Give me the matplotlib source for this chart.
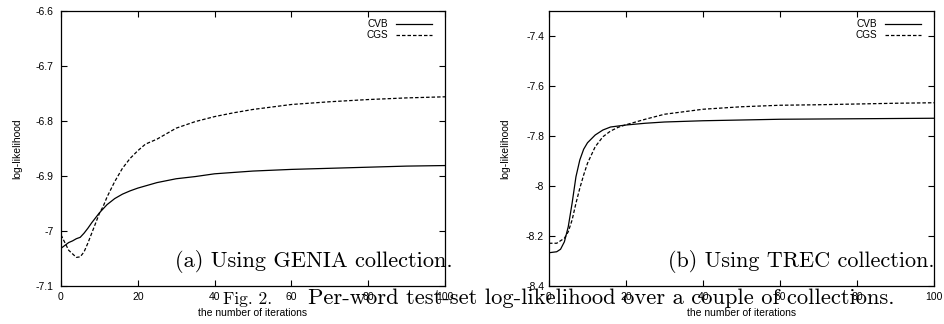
import matplotlib
matplotlib.use("Agg")
import matplotlib.pyplot as plt
from matplotlib.ticker import FuncFormatter

plt.rcParams['axes.unicode_minus'] = False
plt.rcParams['font.family'] = ['Liberation Sans', 'DejaVu Sans']

# ---- data: GENIA ----
genia_cvb_x = [0, 2, 3, 4, 5, 6, 7, 8, 9, 10, 12, 14, 16, 18, 20, 25, 30, 35, 40, 50, 60, 70, 80, 90, 100]
genia_cvb_y = [-7.0315, -7.021, -7.018, -7.014, -7.0115, -7.004, -6.995, -6.985, -6.976, -6.967,
               -6.952, -6.941, -6.933, -6.927, -6.922, -6.912, -6.905, -6.901, -6.896, -6.891,
               -6.888, -6.886, -6.884, -6.882, -6.881]
genia_cgs_x = [0, 2, 4, 5, 6, 7, 8, 9, 10, 11, 12, 14, 16, 18, 20, 22, 25, 30, 35, 40, 45, 50, 60, 70, 80, 90, 100]
genia_cgs_y = [-7.007, -7.035, -7.048, -7.047, -7.038, -7.022, -7.004, -6.986, -6.968, -6.955,
               -6.938, -6.910, -6.886, -6.868, -6.854, -6.842, -6.833, -6.813, -6.801, -6.792,
               -6.785, -6.779, -6.770, -6.765, -6.761, -6.758, -6.756]

# ---- data: TREC ----
trec_cvb_x = [0, 2, 3, 4, 5, 6, 7, 8, 9, 10, 12, 14, 16, 20, 25, 30, 40, 60, 80, 100]
trec_cvb_y = [-8.267, -8.263, -8.253, -8.223, -8.163, -8.069, -7.963, -7.896, -7.853, -7.827,
              -7.796, -7.776, -7.764, -7.756, -7.749, -7.744, -7.739, -7.733, -7.731, -7.729]
trec_cgs_x = [0, 2, 4, 5, 6, 7, 8, 9, 10, 12, 14, 16, 18, 20, 25, 30, 35, 40, 50, 60, 70, 80, 90, 100]
trec_cgs_y = [-8.229, -8.229, -8.209, -8.183, -8.136, -8.069, -8.009, -7.956, -7.909, -7.843,
              -7.803, -7.780, -7.765, -7.755, -7.733, -7.713, -7.703, -7.693, -7.683, -7.677,
              -7.675, -7.672, -7.669, -7.667]

series_labels = ["CVB", "CGS"]
x_ticks = [0, 20, 40, 60, 80, 100]
genia_yticks = [-7.1, -7.0, -6.9, -6.8, -6.7, -6.6]
trec_yticks = [-8.4, -8.2, -8.0, -7.8, -7.6, -7.4]
xlabel = "the number of iterations"
ylabel = "log-likelihood"
sub_a = "(a) Using GENIA collection."
sub_b = "(b) Using TREC collection."
fig_label = "Fig. 2."
caption = "Per-word test-set log-likelihood over a couple of collections."

W, H = 944, 324
fig = plt.figure(figsize=(W / 100, H / 100), dpi=100)

def px_axes(x0, x1, y0, y1):
    return fig.add_axes([x0 / W, 1 - y1 / H, (x1 - x0) / W, (y1 - y0) / H])

axL = px_axes(61, 445, 11, 286)
axR = px_axes(549, 934, 11, 286)

fmt = FuncFormatter(lambda v, p: "%g" % round(v, 3))

for ax, (cx, cy, gx, gy), yt, ylim, ypad, ylp in [
    (axL, (genia_cvb_x, genia_cvb_y, genia_cgs_x, genia_cgs_y), genia_yticks, (-7.1, -6.6), 5.5, 9.5),
    (axR, (trec_cvb_x, trec_cvb_y, trec_cgs_x, trec_cgs_y), trec_yticks, (-8.4, -7.3), 3.5, 11.0),
]:
    ax.plot(cx, cy, color='black', lw=0.9, ls='-', label=series_labels[0])
    ax.plot(gx, gy, color='black', lw=0.9, ls=(0, (2.8, 1.6)), label=series_labels[1])
    ax.set_xlim(0, 100)
    ax.set_ylim(*ylim)
    ax.set_xticks(x_ticks)
    ax.set_yticks(yt)
    ax.yaxis.set_major_formatter(fmt)
    ax.tick_params(direction='in', top=True, right=True, length=4, width=0.8,
                   labelsize=7.5)
    ax.tick_params(axis='x', pad=4)
    ax.tick_params(axis='y', pad=ypad)
    for s in ax.spines.values():
        s.set_linewidth(0.9)
    ax.set_xlabel(xlabel, fontsize=7.5, labelpad=5)
    ax.set_ylabel(ylabel, fontsize=7.5, labelpad=ylp)
    ax.legend(loc='upper right', bbox_to_anchor=(0.965, 0.97), frameon=False,
              markerfirst=False, fontsize=7.2,
              handlelength=3.6, handletextpad=0.75, labelspacing=0.12,
              borderaxespad=0.0, borderpad=0.0)

serif = ['cmr10', 'DejaVu Serif']
renderer = fig.canvas.get_renderer()

def fit_text(x0, x1, ybase, s):
    t = fig.text(x0 / W, 1 - ybase / H, s, family=serif, fontsize=14,
                 ha='left', va='baseline')
    w = t.get_window_extent(renderer).width
    t.set_fontsize(14 * (x1 - x0) / w)
    return t

fit_text(175, 453, 267, sub_a)
fit_text(668, 934, 267, sub_b)
fit_text(223, 272, 304, fig_label)
fit_text(308, 892, 304, caption)

fig.savefig("out.png", dpi=100)
